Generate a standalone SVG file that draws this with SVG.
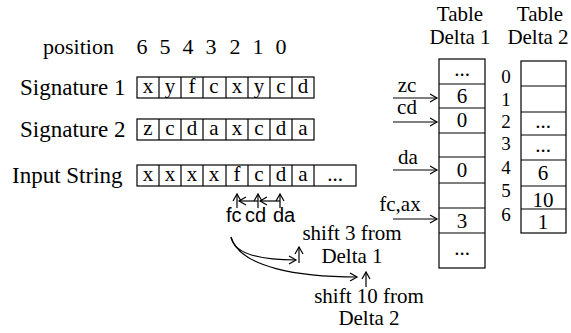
<svg xmlns="http://www.w3.org/2000/svg" width="571" height="333" viewBox="0 0 571 333">
<style>
text{font-family:"Liberation Serif","Times New Roman",serif;font-size:21px;fill:#000}
.c{text-anchor:middle}
.L{font-size:23px}
.P{font-size:22px}
.i{font-size:19px}
.s{font-family:"Liberation Sans",Arial,sans-serif;font-size:20px}
.box{fill:#fff;stroke:#000;stroke-width:1.2}
.ln{fill:none;stroke:#000;stroke-width:1.2}
</style>
<defs>
<marker id="ah" markerWidth="10" markerHeight="10" refX="8" refY="5" orient="auto" markerUnits="userSpaceOnUse">
<path d="M1,1 L8,5 L1,9" fill="none" stroke="#000" stroke-width="1.2"/>
</marker>
</defs>

<g id="position">
<text class="P" x="43" y="54">position</text>
<text class="c P" x="142" y="54">6</text>
<text class="c P" x="165" y="54">5</text>
<text class="c P" x="188" y="54">4</text>
<text class="c P" x="211" y="54">3</text>
<text class="c P" x="235" y="54">2</text>
<text class="c P" x="258" y="54">1</text>
<text class="c P" x="281" y="54">0</text>
</g>

<g id="signature1">
<text class="L" x="20" y="95">Signature 1</text>
<rect class="box" x="137" y="77" width="177" height="21"/>
<path class="ln" d="M159,77V98M181,77V98M203,77V98M226,77V98M248,77V98M270,77V98M292,77V98"/>
<text class="c" x="148" y="93">x</text><text class="c" x="170" y="93">y</text><text class="c" x="192" y="93">f</text><text class="c" x="214" y="93">c</text><text class="c" x="237" y="93">x</text><text class="c" x="259" y="93">y</text><text class="c" x="281" y="93">c</text><text class="c" x="303" y="93">d</text>
</g>

<g id="signature2">
<text class="L" x="20" y="137">Signature 2</text>
<rect class="box" x="137" y="119" width="177" height="21"/>
<path class="ln" d="M159,119V140M181,119V140M203,119V140M226,119V140M248,119V140M270,119V140M292,119V140"/>
<text class="c" x="148" y="135">z</text><text class="c" x="170" y="135">c</text><text class="c" x="192" y="135">d</text><text class="c" x="214" y="135">a</text><text class="c" x="237" y="135">x</text><text class="c" x="259" y="135">c</text><text class="c" x="281" y="135">d</text><text class="c" x="303" y="135">a</text>
</g>

<g id="input">
<text class="L" x="12" y="183">Input String</text>
<rect class="box" x="137" y="165" width="219" height="21"/>
<path class="ln" d="M159,165V186M181,165V186M203,165V186M226,165V186M248,165V186M270,165V186M292,165V186M314,165V186"/>
<text class="c" x="148" y="181">x</text><text class="c" x="170" y="181">x</text><text class="c" x="192" y="181">x</text><text class="c" x="214" y="181">x</text><text class="c" x="237" y="181">f</text><text class="c" x="259" y="181">c</text><text class="c" x="281" y="181">d</text><text class="c" x="303" y="181">a</text><text class="c" x="335" y="181">...</text>
</g>

<g id="pairs">
<text class="s" x="226" y="222">fc</text>
<text class="s" x="245" y="222">cd</text>
<text class="s" x="273" y="222">da</text>
</g>

<g id="shift3">
<text class="c" x="352" y="240">shift 3 from</text>
<text class="c" x="352" y="263">Delta 1</text>
</g>

<g id="shift10">
<text class="c" x="369" y="303">shift 10 from</text>
<text class="c" x="369" y="325">Delta 2</text>
</g>

<g id="delta1">
<text class="c" x="460" y="21">Table</text>
<text class="c" x="460" y="44">Delta 1</text>
<rect class="box" x="439" y="59" width="46" height="209"/>
<path class="ln" d="M439,84H485M439,108H485M439,133H485M439,157H485M439,183H485M439,208H485M439,233H485"/>
<text class="c" x="462" y="76">...</text>
<text class="c" x="462" y="103">6</text>
<text class="c" x="462" y="127">0</text>
<text class="c" x="462" y="177">0</text>
<text class="c" x="462" y="228">3</text>
<text class="c" x="462" y="255">...</text>
</g>

<g id="delta2">
<text class="c" x="540" y="21">Table</text>
<text class="c" x="538" y="44">Delta 2</text>
<rect class="box" x="521" y="61" width="45" height="172"/>
<path class="ln" d="M521,86H566M521,112H566M521,135H566M521,160H566M521,186H566M521,209H566"/>
<text class="c" x="543" y="128">...</text>
<text class="c" x="543" y="152">...</text>
<text class="c" x="543" y="180">6</text>
<text class="c" x="543" y="207">10</text>
<text class="c" x="543" y="229">1</text>
<text class="c i" x="506" y="83">0</text>
<text class="c i" x="506" y="106">1</text>
<text class="c i" x="506" y="128">2</text>
<text class="c i" x="506" y="150">3</text>
<text class="c i" x="506" y="174">4</text>
<text class="c i" x="506" y="197">5</text>
<text class="c i" x="506" y="221">6</text>
</g>

<g id="arrow-labels">
<text class="c" x="407" y="92">zc</text>
<text class="c" x="407" y="114">cd</text>
<text class="c" x="408" y="164">da</text>
<text class="c" x="400" y="211">fc,ax</text>
</g>

<g id="connectors">
<path class="ln" d="M393,98H437" marker-end="url(#ah)"/>
<path class="ln" d="M393,122H437" marker-end="url(#ah)"/>
<path class="ln" d="M393,170H437" marker-end="url(#ah)"/>
<path class="ln" d="M393,219H437" marker-end="url(#ah)"/>
<path class="ln" d="M237,208V194" marker-end="url(#ah)"/>
<path class="ln" d="M258,208V194" marker-end="url(#ah)"/>
<path class="ln" d="M280,208V194" marker-end="url(#ah)"/>
<path class="ln" d="M258,201H239" marker-end="url(#ah)"/>
<path class="ln" d="M280,201H260" marker-end="url(#ah)"/>
<path class="ln" d="M231,237C234,254 260,260 296,260" marker-end="url(#ah)"/>
<path class="ln" d="M231,237C240,268 300,277 357,277" marker-end="url(#ah)"/>
<path class="ln" d="M299,263V247" marker-end="url(#ah)"/>
<path class="ln" d="M366,287V272" marker-end="url(#ah)"/>
</g>
</svg>
